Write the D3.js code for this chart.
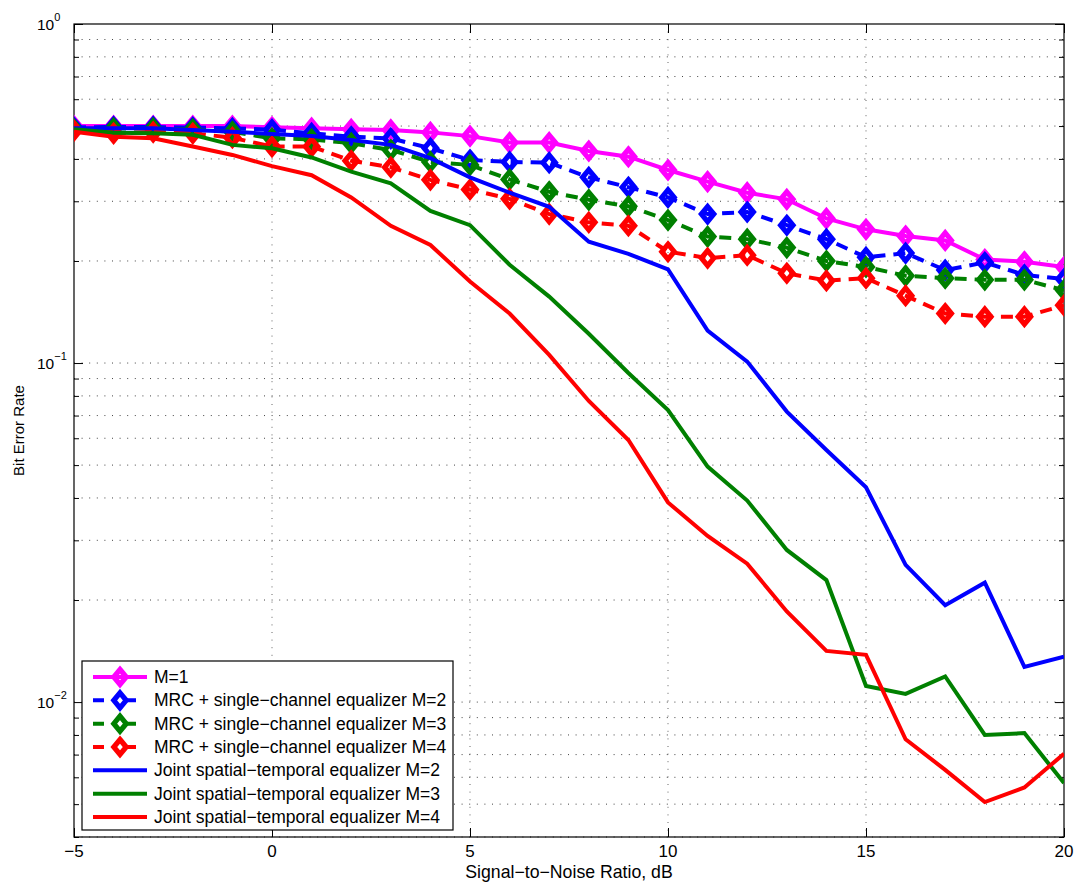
<!DOCTYPE html>
<html>
<head>
<meta charset="utf-8">
<script src="https://cdn.jsdelivr.net/npm/d3@7/dist/d3.min.js"></script>
<style>
  html, body { margin: 0; padding: 0; background: #fff; }
  svg { display: block; }
  text { font-family: "Liberation Sans", Arial, Helvetica, sans-serif; fill: #000; }
</style>
</head>
<body>
<svg id="chart" width="1078" height="885"></svg>
<script>
// SNR points (dB)
const snr = [-5, -4, -3, -2, -1, 0, 1, 2, 3, 4, 5, 6, 7, 8, 9, 10, 11, 12, 13, 14, 15, 16, 17, 18, 19, 20];

// Bit error rate per receiver configuration
const berM1 = [0.500, 0.500, 0.500, 0.500, 0.500, 0.496, 0.493, 0.489, 0.487, 0.479, 0.467, 0.447, 0.447, 0.422, 0.406, 0.371, 0.343, 0.318, 0.304, 0.267, 0.248, 0.237, 0.230, 0.202, 0.199, 0.192];
const berMrc2 = [0.495, 0.497, 0.497, 0.495, 0.492, 0.488, 0.476, 0.465, 0.460, 0.430, 0.397, 0.392, 0.390, 0.353, 0.330, 0.308, 0.275, 0.279, 0.255, 0.232, 0.205, 0.211, 0.188, 0.198, 0.182, 0.177];
const berMrc3 = [0.489, 0.492, 0.492, 0.489, 0.481, 0.460, 0.457, 0.445, 0.425, 0.392, 0.384, 0.348, 0.320, 0.303, 0.290, 0.264, 0.236, 0.232, 0.219, 0.200, 0.192, 0.181, 0.178, 0.176, 0.176, 0.164];
const berMrc4 = [0.485, 0.476, 0.480, 0.476, 0.462, 0.435, 0.435, 0.395, 0.378, 0.347, 0.325, 0.305, 0.275, 0.260, 0.254, 0.213, 0.204, 0.208, 0.184, 0.175, 0.178, 0.158, 0.140, 0.137, 0.137, 0.148];
const berJoint2 = [0.493, 0.493, 0.493, 0.487, 0.481, 0.474, 0.467, 0.455, 0.440, 0.402, 0.353, 0.318, 0.289, 0.228, 0.210, 0.189, 0.1246, 0.101, 0.0719, 0.0554, 0.0430, 0.0254, 0.0193, 0.0225, 0.0127, 0.0136];
const berJoint3 = [0.489, 0.478, 0.476, 0.471, 0.440, 0.430, 0.404, 0.367, 0.339, 0.281, 0.255, 0.195, 0.157, 0.122, 0.0935, 0.0727, 0.0495, 0.0393, 0.0281, 0.0229, 0.01116, 0.01057, 0.0119, 0.0080, 0.0081, 0.00577];
const berJoint4 = [0.481, 0.465, 0.460, 0.435, 0.411, 0.381, 0.358, 0.308, 0.254, 0.223, 0.174, 0.140, 0.1057, 0.0773, 0.0593, 0.0388, 0.0309, 0.0256, 0.0185, 0.01416, 0.01378, 0.00777, 0.00631, 0.00507, 0.0056, 0.00704];

const seriesNames = [
  "M=1",
  "MRC + single\u2212channel equalizer M=2",
  "MRC + single\u2212channel equalizer M=3",
  "MRC + single\u2212channel equalizer M=4",
  "Joint spatial\u2212temporal equalizer M=2",
  "Joint spatial\u2212temporal equalizer M=3",
  "Joint spatial\u2212temporal equalizer M=4"
];
const seriesValues = [berM1, berMrc2, berMrc3, berMrc4, berJoint2, berJoint3, berJoint4];
const seriesColors = ["#ff00ff", "#0000ff", "#008000", "#ff0000", "#0000ff", "#008000", "#ff0000"];
const seriesDashed = [false, true, true, true, false, false, false];
const seriesMarkers = [true, true, true, true, false, false, false];

const xTicks = [-5, 0, 5, 10, 15, 20];
const yMajorTicks = [1, 0.1, 0.01];
const yExponents = ["0", "\u22121", "\u22122"];
const xLabel = "Signal\u2212to\u2212Noise Ratio, dB";
const yLabel = "Bit Error Rate";

// Layout
const plot = { left: 74, top: 24, right: 1064, bottom: 837 };
const svg = d3.select("#chart");

const x = d3.scaleLinear().domain([-5, 20]).range([plot.left, plot.right]);
const y = d3.scaleLog().domain([0.004, 1]).range([plot.bottom, plot.top]);

// Minor log ticks within the domain
const yMinorTicks = [];
[0.001, 0.01, 0.1].forEach(dec => {
  for (let k = 2; k <= 9; k++) {
    const v = +(k * dec).toPrecision(3);
    if (v >= 0.004 && v <= 1) yMinorTicks.push(v);
  }
});
const yAllTicks = yMajorTicks.concat(yMinorTicks);

// Dotted grid
const grid = svg.append("g").attr("class", "grid");
grid.selectAll("line.h").data(yAllTicks.filter(v => v < 1)).enter().append("line")
  .attr("x1", plot.left).attr("x2", plot.right)
  .attr("y1", d => y(d)).attr("y2", d => y(d))
  .attr("stroke", "#444").attr("stroke-width", 1).attr("stroke-dasharray", "1,6.6");
grid.selectAll("line.v").data(xTicks.filter(v => v > -5 && v < 20)).enter().append("line")
  .attr("x1", d => x(d)).attr("x2", d => x(d))
  .attr("y1", plot.top).attr("y2", plot.bottom)
  .attr("stroke", "#666").attr("stroke-width", 1).attr("stroke-dasharray", "1,6.6");

// Tick marks on all four sides, pointing inward
function tickAxis(axis, tx, ty) {
  const g = svg.append("g").attr("transform", `translate(${tx},${ty})`).call(axis);
  g.select(".domain").remove();
  g.selectAll("text").remove();
  g.selectAll("line").attr("stroke", "#000").attr("stroke-width", 1);
  return g;
}
tickAxis(d3.axisBottom(x).tickValues(xTicks).tickSize(-9), 0, plot.bottom);
tickAxis(d3.axisTop(x).tickValues(xTicks).tickSize(-9), 0, plot.top);
tickAxis(d3.axisLeft(y).tickValues(yMajorTicks).tickSize(-9), plot.left, 0);
tickAxis(d3.axisRight(y).tickValues(yMajorTicks).tickSize(-9), plot.right, 0);
tickAxis(d3.axisLeft(y).tickValues(yMinorTicks).tickSize(-5), plot.left, 0);
tickAxis(d3.axisRight(y).tickValues(yMinorTicks).tickSize(-5), plot.right, 0);

// Axes box
svg.append("rect")
  .attr("x", plot.left).attr("y", plot.top)
  .attr("width", plot.right - plot.left).attr("height", plot.bottom - plot.top)
  .attr("fill", "none").attr("stroke", "#000").attr("stroke-width", 1.2);

// Tick labels
svg.append("g").selectAll("text").data(xTicks).enter().append("text")
  .attr("x", d => x(d)).attr("y", plot.bottom + 20)
  .attr("text-anchor", "middle").attr("font-size", 17)
  .text(d => d < 0 ? "\u2212" + Math.abs(d) : d);

const yLab = svg.append("g").selectAll("text").data(yMajorTicks).enter().append("text")
  .attr("x", 37).attr("y", d => y(d) + 6).attr("font-size", 15.5);
yLab.append("tspan").text("10");
yLab.append("tspan").attr("font-size", 11).attr("dy", -9.5).text((d, i) => yExponents[i]);

// Axis titles
svg.append("text")
  .attr("x", 569).attr("y", 878)
  .attr("text-anchor", "middle").attr("font-size", 17.7).text(xLabel);
svg.append("text")
  .attr("transform", `translate(24,${(plot.top + plot.bottom) / 2}) rotate(-90)`)
  .attr("text-anchor", "middle").attr("font-size", 15).text(yLabel);

// Series
svg.append("clipPath").attr("id", "plotClip").append("rect")
  .attr("x", plot.left).attr("y", plot.top)
  .attr("width", plot.right - plot.left).attr("height", plot.bottom - plot.top);

const line = d3.line().x((d, i) => x(snr[i])).y(d => y(d));
const diamond = (cx, cy) => `M${cx},${cy - 7.5}L${cx + 6.2},${cy}L${cx},${cy + 7.5}L${cx - 6.2},${cy}Z`;
const dash = "12,8";

const seriesG = svg.append("g").attr("clip-path", "url(#plotClip)");
seriesValues.forEach((vals, s) => {
  const g = seriesG.append("g");
  g.append("path").datum(vals)
    .attr("d", line)
    .attr("fill", "none")
    .attr("stroke", seriesColors[s])
    .attr("stroke-width", 4)
    .attr("stroke-linejoin", "miter")
    .attr("stroke-dasharray", seriesDashed[s] ? dash : null);
  if (seriesMarkers[s]) {
    g.selectAll("path.m").data(vals).enter().append("path")
      .attr("class", "m")
      .attr("d", (d, i) => diamond(x(snr[i]), y(d)))
      .attr("fill", "none")
      .attr("stroke", seriesColors[s])
      .attr("stroke-width", 5.2);
  }
});

// Legend
const legend = svg.append("g");
legend.append("rect")
  .attr("x", 82).attr("y", 661).attr("width", 371).attr("height", 169)
  .attr("fill", "#fff").attr("stroke", "#000").attr("stroke-width", 1.2);
seriesNames.forEach((name, s) => {
  const cy = 677 + s * 23.33;
  legend.append("line")
    .attr("x1", 93).attr("x2", 147).attr("y1", cy).attr("y2", cy)
    .attr("stroke", seriesColors[s]).attr("stroke-width", 4)
    .attr("stroke-dasharray", seriesDashed[s] ? "11,21" : null);
  if (seriesMarkers[s]) {
    legend.append("path").attr("d", diamond(120, cy))
      .attr("fill", "none").attr("stroke", seriesColors[s]).attr("stroke-width", 5.2);
  }
  legend.append("text").attr("x", 154).attr("y", cy + 6)
    .attr("font-size", 17.5).text(name);
});
</script>
</body>
</html>
